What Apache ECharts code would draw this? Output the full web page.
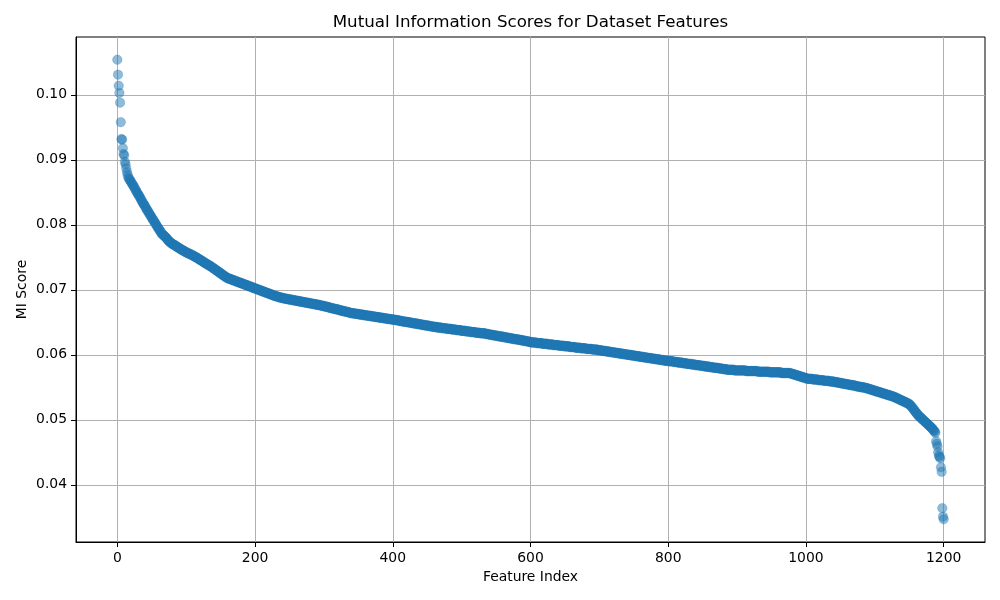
<!DOCTYPE html>
<html>
<head>
<meta charset="utf-8">
<script src="https://cdn.jsdelivr.net/npm/echarts@6/dist/echarts.min.js"></script>
<style>
html,body{margin:0;padding:0;background:#fff;}
#chart{width:1000px;height:600px;}
</style>
</head>
<body>
<div id="chart"></div>
<script>
// MI scores, sorted descending, feature index = position in the combined list
const topScores = [
.1054,.1031,.1014,.1003,.0988,.0958,.0932,.0931,.0918,.0909,.0907,.0897,.0893,.0887,.0881,.0877,.0873,.0871,.0869,.0868,.0866,
.0864,.0862,.0861,.0859,.0857,.0855,.0853,.0851,.0849,.0847,.0846,.0844,.0842,.0840,.0838,
.0836,.0834,.0832,.0831,.0829,.0827,.0825,.0823,.0822,.0820,.0818,.0816,.0815,.0813,
.0811,.0809,.0808,.0806,.0804,.0803,.0801,.0799,.0797,.0796,.0794,.0792,.0791,.0789,.0787,
.0786,.0785,.0784,.0783,.0782,.0781,.0780,.0779,.0777,.0776,.0775,.0774,.0773,.0772
];
const upperScores = [
.0771,.0771,.0770,.0769,.0769,.0768,.0767,.0767,.0766,.0765,.0765,.0764,.0763,.0763,.0762,.0761,.0761,.0760,.0760,.0759,.0758,.0758,.0757,.0757,.0756,.0756,.0755,.0755,.0754,
.0754,.0753,.0753,.0752,.0751,.0751,.0750,.0750,.0749,.0748,.0748,.0747,.0746,.0746,.0745,.0744,.0744,.0743,.0742,.0742,.0741,.0740,.0740,.0739,.0738,.0738,.0737,.0737,.0736,
.0735,.0734,.0734,.0733,.0732,.0731,.0731,.0730,.0729,.0728,.0728,.0727,.0726,.0725,.0725,.0724,.0723,.0722,.0722,.0721,.0720,.0719,.0719,.0718,
.0718,.0717,.0717,.0717,.0716,.0716,.0715,.0715,.0715,.0714,.0714,.0713,.0713,.0713,.0712,.0712,.0711,.0711,.0711,.0710,.0710,.0709,.0709,.0709,.0708,.0708,.0707,.0707,.0707,.0706,.0706,.0705,.0705,.0705,.0704,.0704,.0703,.0703,.0703,
.0702,.0702,.0701,.0701,.0701,.0700,.0700,.0699,.0699,.0699,.0698,.0698,.0697,.0697,.0697,.0696,.0696,.0695,.0695,.0695,.0694,.0694,.0693,.0693,.0693,.0692,.0692,.0691,.0691,.0691,.0690,.0690,.0690,.0689,.0689,.0689,.0688,.0688,.0688,.0688,.0687,.0687,.0687,
.0687,.0686,.0686,.0686,.0686,.0686,.0685,.0685,.0685,.0685,.0685,.0684,.0684,.0684,.0684,.0684,.0683,.0683,.0683,.0683,.0683,.0682,.0682,.0682,.0682,.0682,.0681,.0681,.0681,.0681,.0681,.0680,.0680,.0680,.0680,.0680,.0679,.0679,.0679,.0679,.0679,.0678,.0678,.0678,.0678,.0678,.0677,.0677,.0677,
.0677,.0677,.0676,.0676,.0676,.0676,.0675,.0675,.0675,.0675,.0674,.0674,.0674,.0674,.0673,.0673,.0673,.0672,.0672,.0672,.0672,.0671,.0671,.0671,.0671,.0670,.0670,.0670,.0670,.0669,.0669,.0669,.0668,.0668,.0668,.0668,.0667,.0667,.0667,.0667,.0666,.0666,.0666,.0666,.0665,.0665,.0665,.0664
];
const middleScores = [
.0664,.0664,.0664,.0664,.0664,.0663,.0663,.0663,.0663,.0663,.0663,.0662,.0662,.0662,.0662,.0662,.0662,.0661,.0661,.0661,.0661,.0661,.0661,.0660,.0660,.0660,.0660,.0660,.0660,.0659,.0659,.0659,.0659,.0659,.0659,.0658,.0658,.0658,.0658,.0658,.0658,.0657,.0657,.0657,.0657,.0657,.0657,.0656,.0656,.0656,.0656,.0656,.0656,.0655,.0655,.0655,.0655,.0655,.0655,.0654,.0654,.0654,
.0654,.0654,.0654,.0653,.0653,.0653,.0653,.0653,.0652,.0652,.0652,.0652,.0652,.0651,.0651,.0651,.0651,.0651,.0651,.0650,.0650,.0650,.0650,.0650,.0649,.0649,.0649,.0649,.0649,.0648,.0648,.0648,.0648,.0648,.0648,.0647,.0647,.0647,.0647,.0647,.0646,.0646,.0646,.0646,.0646,.0645,.0645,.0645,.0645,.0645,.0645,.0644,.0644,.0644,.0644,.0644,.0643,.0643,.0643,
.0643,.0643,.0643,.0642,.0642,.0642,.0642,.0642,.0642,.0642,.0641,.0641,.0641,.0641,.0641,.0641,.0641,.0640,.0640,.0640,.0640,.0640,.0640,.0640,.0639,.0639,.0639,.0639,.0639,.0639,.0639,.0638,.0638,.0638,.0638,.0638,.0638,.0638,.0637,.0637,.0637,.0637,.0637,.0637,.0637,.0636,.0636,.0636,.0636,.0636,.0636,.0636,.0635,.0635,.0635,.0635,.0635,.0635,.0635,.0634,.0634,.0634,.0634,.0634,.0634,.0634,.0633,.0633,.0633,.0633,.0633,.0633,
.0633,.0633,.0632,.0632,.0632,.0632,.0632,.0631,.0631,.0631,.0631,.0631,.0630,.0630,.0630,.0630,.0630,.0629,.0629,.0629,.0629,.0629,.0628,.0628,.0628,.0628,.0628,.0628,.0627,.0627,.0627,.0627,.0627,.0626,.0626,.0626,.0626,.0626,.0625,.0625,.0625,.0625,.0625,.0624,.0624,.0624,.0624,.0624,.0624,.0623,.0623,.0623,.0623,.0623,.0622,.0622,.0622,.0622,.0622,.0621,.0621,.0621,.0621,.0621,.0620,.0620,.0620,.0620,
.0619,.0619,.0619,.0619,.0619,.0619,.0619,.0619,.0618,.0618,.0618,.0618,.0618,.0618,.0618,.0618,.0617,.0617,.0617,.0617,.0617,.0617,.0617,.0617,.0616,.0616,.0616,.0616,.0616,.0616,.0616,.0616,.0615,.0615,.0615,.0615,.0615,.0615,.0615,.0615,.0614,.0614,.0614,.0614,.0614,.0614,.0614,.0614,.0613,.0613,.0613,.0613,.0613,.0613,.0613,.0613,.0612,.0612,.0612,.0612,.0612,.0612,.0612,.0612,.0611,.0611,.0611,.0611,.0611,.0611,.0611,.0611,.0610,.0610,.0610,.0610,.0610,.0610,.0610,.0610,.0609,.0609,.0609,.0609,.0609,.0609,.0609,.0609,.0609,.0608,.0608,.0608,.0608,.0608,.0608,.0608,.0608,
.0607,.0607,.0607,.0607,.0607,.0607,.0606,.0606,.0606,.0606,.0606,.0606,.0605,.0605,.0605,.0605,.0605,.0605,.0604,.0604,.0604,.0604,.0604,.0604,.0603,.0603,.0603,.0603,.0603,.0603,.0602,.0602,.0602,.0602,.0602,.0602,.0601,.0601,.0601,.0601,.0601,.0601,.0600,.0600,.0600,.0600,.0600,.0600,.0599,.0599,.0599,.0599,.0599,.0599,.0598,.0598,.0598,.0598,.0598,.0598,.0597,.0597,.0597,.0597,.0597,.0597,.0596,.0596,.0596,.0596,.0596,.0596,.0595,.0595,.0595,.0595,.0595,.0595,.0594,.0594,.0594,.0594,.0594,.0594,.0593,.0593,.0593,.0593,.0593,.0593,.0592,.0592,.0592,.0592,.0592,.0592,.0591,.0591,.0591,.0591,.0591,.0591,.0591
];
const lowerScores = [
.0590,.0590,.0590,.0590,.0590,.0590,.0590,.0589,.0589,.0589,.0589,.0589,.0589,.0588,.0588,.0588,.0588,.0588,.0588,.0588,.0587,.0587,.0587,.0587,.0587,.0587,.0586,.0586,.0586,.0586,.0586,.0586,.0586,.0585,.0585,.0585,.0585,.0585,.0585,.0584,.0584,.0584,.0584,.0584,.0584,.0584,.0583,.0583,.0583,.0583,.0583,.0583,.0582,.0582,.0582,.0582,.0582,.0582,.0582,.0581,.0581,.0581,.0581,.0581,.0581,.0580,.0580,.0580,.0580,.0580,.0580,.0580,.0579,.0579,.0579,.0579,.0579,.0579,.0578,.0578,.0578,.0578,.0578,.0578,.0577,.0577,.0577,.0577,.0577,.0577,
.0577,.0577,.0577,.0577,.0577,.0576,.0576,.0576,.0576,.0576,.0576,.0576,.0576,.0576,.0576,.0576,.0576,.0576,.0576,.0576,.0576,.0576,.0575,.0575,.0575,.0575,.0575,.0575,.0575,.0575,.0575,.0575,.0575,.0575,.0575,.0575,.0575,.0575,.0575,.0574,.0574,.0574,.0574,.0574,.0574,.0574,.0574,.0574,.0574,.0574,.0574,.0574,.0574,.0574,.0574,.0574,.0573,.0573,.0573,.0573,.0573,.0573,.0573,.0573,.0573,.0573,.0573,.0573,.0573,.0573,.0573,.0573,.0573,.0572,.0572,.0572,.0572,.0572,.0572,.0572,.0572,.0572,.0572,.0572,.0572,.0572,.0572,
.0571,.0571,.0571,.0570,.0570,.0570,.0569,.0569,.0569,.0568,.0568,.0568,.0567,.0567,.0567,.0566,.0566,.0566,.0565,.0565,.0565,.0564,.0564,.0564,
.0563,.0563,.0563,.0563,.0563,.0563,.0563,.0563,.0562,.0562,.0562,.0562,.0562,.0562,.0562,.0562,.0561,.0561,.0561,.0561,.0561,.0561,.0561,.0561,.0560,.0560,.0560,.0560,.0560,.0560,.0560,.0560,.0559,.0559,.0559,.0559,.0559,.0559,.0559,
.0558,.0558,.0558,.0558,.0558,.0557,.0557,.0557,.0557,.0557,.0556,.0556,.0556,.0556,.0556,.0555,.0555,.0555,.0555,.0555,.0554,.0554,.0554,.0554,.0554,.0553,.0553,.0553,.0553,.0553,.0552,.0552,.0552,.0552,.0551,.0551,.0551,.0551,.0551,.0550,.0550,.0550,.0550,.0550,.0549,.0549,.0549,.0549,
.0548,.0548,.0548,.0547,.0547,.0547,.0546,.0546,.0546,.0545,.0545,.0545,.0544,.0544,.0544,.0543,.0543,.0543,.0542,.0542,.0542,.0541,.0541,.0541,.0540,.0540,.0540,.0539,.0539,.0539,.0538,.0538,.0538,.0537,.0537,.0537,.0536,.0536,.0536,
.0535,.0535,.0534,.0534,.0533,.0533,.0532,.0532,.0531,.0531,.0530,.0530,.0529,.0529,.0528,.0528,.0527,.0527,.0526,.0526,.0525,.0525,.0524,.0523,
.0522,.0521,.0519,.0518,.0517,.0515,.0514,.0512,.0511,.0510,.0508,.0507,.0506,.0505,
.0504,.0503,.0502,.0501,.0500,.0499,.0498,.0497,.0496,.0495,.0494,.0493,.0492,.0491,.0490,
.0489,.0488,.0487,.0486,.0484,.0483,.0482,.0480
];
const tailScores = [.0467,.0463,.0459,.0450,.0445,.0443,.0441,.0427,.0420,.0364,.0351,.0347];

const xTicks = [0, 200, 400, 600, 800, 1000, 1200];
const yTicks = [0.04, 0.05, 0.06, 0.07, 0.08, 0.09, 0.10];

const miScores = topScores.concat(upperScores, middleScores, lowerScores, tailScores);
const points = miScores.map((v, i) => [i, v]);

const chart = echarts.init(document.getElementById('chart'), null, {renderer: 'canvas'});
const FONT = 'DejaVu Sans';
chart.setOption({
  animation: false,
  backgroundColor: '#ffffff',
  grid: {left: 76, right: 15, top: 37, bottom: 58, show: true, borderColor: '#000', borderWidth: 1, backgroundColor: 'transparent'},
  graphic: [
    {type: 'text', x: 530.5, y: 23, style: {text: 'Mutual Information Scores for Dataset Features', textAlign: 'center', textVerticalAlign: 'middle', font: '16.7px "DejaVu Sans"', fill: '#000'}},
    {type: 'text', x: 530.5, y: 577, style: {text: 'Feature Index', textAlign: 'center', textVerticalAlign: 'middle', font: '13.9px "DejaVu Sans"', fill: '#000'}},
    {type: 'text', x: 22, y: 289.5, rotation: Math.PI / 2, style: {text: 'MI Score', textAlign: 'center', textVerticalAlign: 'middle', font: '13.9px "DejaVu Sans"', fill: '#000'}}
  ],
  xAxis: {
    type: 'value', min: -60, max: 1260,
    axisLine: {show: true, onZero: false, lineStyle: {color: '#000', width: 1}},
    axisTick: {show: true, inside: false, length: 5, customValues: xTicks, lineStyle: {color: '#000'}},
    axisLabel: {show: true, customValues: xTicks, margin: 9, color: '#000', fontFamily: FONT, fontSize: 13.9, formatter: v => String(v)},
    splitLine: {show: true, lineStyle: {color: '#b0b0b0', width: 1}}
  },
  yAxis: {
    type: 'value', min: 0.0312, max: 0.1089,
    axisLine: {show: true, onZero: false, lineStyle: {color: '#000', width: 1}},
    axisTick: {show: true, inside: false, length: 5, customValues: yTicks, lineStyle: {color: '#000'}},
    axisLabel: {show: true, customValues: yTicks, margin: 9, color: '#000', fontFamily: FONT, fontSize: 13.9, formatter: v => v.toFixed(2)},
    splitLine: {show: true, lineStyle: {color: '#b0b0b0', width: 1}}
  },
  series: [{
    type: 'scatter',
    data: points,
    symbol: 'circle',
    symbolSize: 9.5,
    itemStyle: {color: '#1f77b4', opacity: 0.5, borderColor: '#1f77b4', borderWidth: 0.5},
    emphasis: {disabled: true},
    silent: true
  }]
});
</script>
</body>
</html>
